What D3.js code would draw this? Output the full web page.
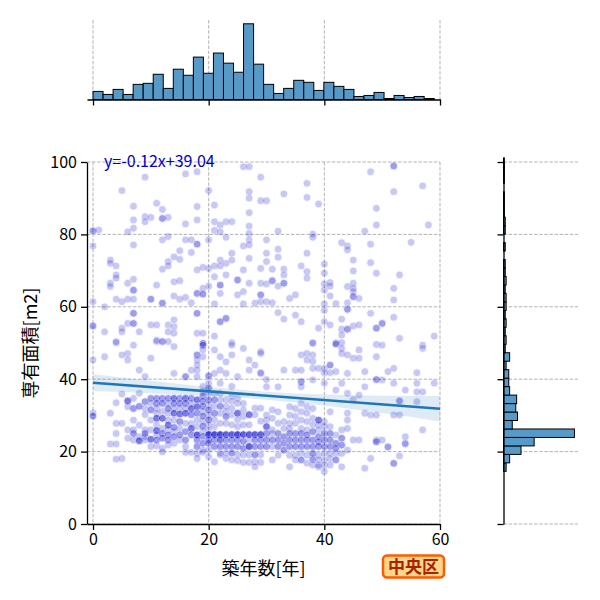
<!DOCTYPE html>
<html>
<head>
<meta charset="utf-8">
<script src="https://cdn.jsdelivr.net/npm/d3@7"></script>
<style>
  body { margin: 0; background: #fff; }
  svg { display: block; }
</style>
</head>
<body>
<svg id="chart" width="600" height="600"></svg>
<script>
// ---- data ----
var xTicks = [0, 20, 40, 60]
var yTicks = [0, 20, 40, 60, 80, 100]

// top histogram (築年数): 34 bins from 0 to 59
var ageBinStart = 0
var ageBinWidth = 59 / 34
var ageCounts = [8, 5, 10, 5, 15, 16, 25, 11, 30, 24, 42, 26, 46, 36, 27, 75, 35,
                 15, 6, 11, 19, 17, 9, 17, 13, 10, 3, 4, 7, 1, 4, 2, 3, 1]

// right histogram (専有面積): 37 bins, bottom to top
var areaBinStart = 14.55
var areaBinWidth = 2.34
var areaCounts = [3, 7, 20, 35, 81, 10, 16, 14, 15, 7, 6, 6, 3, 7, 2, 3, 2, 3, 2,
                  3, 3, 2, 3, 2, 2, 0, 2, 0, 2, 2, 1, 1, 1, 0, 1, 1, 1]

// regression
var fitSlope = -0.12
var fitIntercept = 39.04
var fitLabel = "y=-0.12x+39.04"
var ciX = [0, 10, 20, 30, 40, 50, 60]
var ciHalf = [2.3, 1.7, 1.2, 1.1, 1.5, 2.4, 3.5]

// scatter: [築年数, [専有面積...]]
var scatterCols = [
  [0, [81.0, 81.0, 76.8, 61.4, 54.7, 54.7, 45.3, 30.7, 29.8, 29.8]],
  [1, [81.2]],
  [2, [60.0, 53.1, 46.2]],
  [3, [72.9, 72.0, 66.5, 65.6, 30.6, 22.1]],
  [4, [71.3, 68.8, 67.9, 62.1, 50.4, 50.1, 33.5, 27.8, 25.0, 22.1, 17.9]],
  [5, [92.1, 61.4, 54.1, 53.1, 46.7, 35.9, 27.8, 18.1]],
  [6, [80.7, 66.5, 62.1, 55.4, 47.1, 45.3, 34.0, 34.0, 32.4, 26.0, 23.7]],
  [7, [87.8, 84.0, 81.7, 77.1, 67.6, 64.6, 64.6, 62.1, 58.2, 58.2, 55.4, 55.4, 49.4, 34.7, 31.9, 28.7, 26.0, 25.0, 23.2]],
  [8, [53.1, 42.5, 36.1, 32.5, 27.3, 24.1, 23.0, 23.0]],
  [9, [95.8, 84.9, 83.5, 40.7, 33.8, 31.9, 30.2, 26.0, 25.0, 24.1, 23.2]],
  [10, [84.7, 62.1, 62.1, 55.0, 45.8, 34.7, 33.3, 31.5, 28.7, 26.0, 23.4, 23.4, 21.4]],
  [11, [88.6, 66.0, 55.0, 50.8, 50.4, 34.7, 33.3, 31.9, 30.6, 29.2, 29.2, 27.3, 25.8, 25.8, 24.6, 23.2, 21.6]],
  [12, [86.9, 84.4, 84.4, 78.5, 70.4, 61.0, 61.0, 50.4, 50.4, 34.7, 33.3, 31.1, 29.2, 29.2, 26.4, 25.0, 23.7, 20.9, 19.9]],
  [13, [84.7, 79.4, 72.5, 71.3, 55.0, 53.1, 50.4, 34.7, 33.3, 31.9, 30.6, 28.7, 27.3, 27.3, 26.0, 24.6, 23.2, 21.8]],
  [14, [73.8, 66.9, 63.0, 56.4, 54.5, 52.7, 49.0, 41.6, 34.7, 34.7, 33.3, 31.9, 30.6, 30.6, 28.7, 26.7, 25.5, 24.1, 22.3]],
  [15, [75.5, 73.1, 67.2, 62.1, 34.7, 33.3, 31.9, 30.4, 30.4, 28.3, 26.4, 24.6, 23.2]],
  [16, [96.7, 82.9, 78.5, 62.6, 40.7, 40.7, 34.7, 34.7, 33.3, 31.9, 30.6, 30.6, 27.8, 25.5, 23.2, 21.4, 19.8]],
  [17, [78.5, 75.0, 61.1, 42.5, 34.7, 33.3, 31.9, 31.9, 30.2, 27.8, 26.4, 26.4, 24.6, 19.8]],
  [18, [97.3, 87.7, 84.0, 77.3, 77.3, 70.2, 63.7, 63.7, 58.2, 58.2, 52.7, 46.7, 46.7, 45.3, 43.9, 42.5, 40.7, 34.3, 34.3, 32.4, 32.4, 30.6, 28.7, 26.9, 24.6, 24.6, 23.2, 21.4, 19.5, 18.1]],
  [19, [70.9, 65.1, 63.5, 63.5, 52.7, 49.9, 49.9, 49.4, 49.4, 48.1, 46.2, 38.0, 36.6, 35.3, 33.9, 32.5, 31.1, 29.8, 28.4, 27.0, 25.6, 24.2, 22.3, 20.4, 19.8]],
  [20, [92.1, 78.5, 70.6, 65.7, 40.9, 40.9, 38.9, 37.5, 36.1, 34.3, 32.9, 31.5, 30.1, 28.8, 27.4, 26.0, 24.7, 24.7, 24.7, 23.2, 22.3, 20.5, 18.6]],
  [21, [88.1, 83.5, 81.1, 71.3, 68.3, 60.8, 51.9, 48.1, 41.6, 36.1, 34.3, 32.5, 30.6, 28.8, 26.9, 24.7, 24.7, 24.7, 23.2, 21.4, 17.2]],
  [22, [82.6, 80.7, 72.9, 71.3, 66.0, 66.0, 63.7, 55.9, 55.9, 46.2, 42.5, 38.9, 36.1, 34.3, 32.5, 30.6, 27.8, 24.7, 24.7, 24.7, 23.2, 23.2, 21.4, 19.6, 19.1]],
  [23, [83.5, 79.2, 72.0, 68.8, 56.8, 56.8, 44.8, 41.6, 34.3, 32.5, 31.1, 29.7, 27.8, 24.7, 24.7, 23.2, 21.4, 19.6, 18.1]],
  [24, [83.5, 74.8, 72.9, 50.1, 49.4, 46.7, 38.0, 35.3, 33.9, 32.0, 30.2, 27.4, 24.7, 24.7, 23.2, 21.4, 19.6, 17.7]],
  [25, [67.4, 67.4, 63.3, 40.7, 34.7, 33.3, 30.6, 30.6, 28.8, 26.9, 24.7, 24.7, 24.7, 23.2, 21.4, 19.1, 17.5]],
  [26, [98.7, 76.8, 70.2, 64.2, 60.8, 48.5, 33.3, 31.5, 29.7, 27.4, 24.7, 24.7, 22.8, 20.9, 19.1, 17.0]],
  [27, [98.7, 91.8, 90.0, 86.0, 82.3, 80.3, 78.5, 77.1, 73.4, 66.5, 45.3, 42.5, 30.2, 30.2, 27.4, 24.7, 24.7, 23.2, 21.4, 21.4, 19.1, 17.0]],
  [28, [61.0, 43.9, 32.0, 30.2, 24.7, 24.7, 23.2, 21.4, 19.1, 17.2, 15.8]],
  [29, [95.8, 89.3, 70.6, 66.5, 63.3, 63.3, 61.4, 47.6, 47.1, 41.8, 41.6, 32.0, 28.4, 24.7, 24.7, 23.2, 21.4, 19.1, 17.0]],
  [30, [89.3, 78.5, 74.8, 72.5, 66.3, 61.4, 39.9, 37.9, 30.1, 28.7, 26.9, 26.9, 25.0, 23.2, 21.4]],
  [31, [70.4, 67.2, 67.2, 61.1, 31.5, 29.2, 26.0, 23.2, 17.7]],
  [32, [80.9, 75.9, 73.7, 65.7, 58.4, 37.9, 31.0, 27.8, 25.0, 23.2, 21.4, 19.0]],
  [33, [91.2, 70.4, 68.8, 66.5, 66.5, 56.6, 42.5, 28.3, 26.4, 24.1, 22.3, 20.4]],
  [34, [62.3, 32.4, 30.1, 27.8, 26.4, 25.0, 23.2, 21.4, 19.0, 15.8]],
  [35, [63.3, 57.7, 42.5, 31.9, 29.7, 27.8, 25.0, 23.2, 21.4, 19.0, 17.7]],
  [36, [71.3, 55.9, 46.7, 42.5, 39.3, 39.3, 37.9, 33.3, 31.0, 28.7, 26.4, 25.0, 23.2, 21.4, 19.5, 17.7, 17.7]],
  [37, [94.1, 90.2, 74.8, 69.7, 67.9, 47.1, 45.3, 32.4, 30.6, 28.3, 26.0, 24.6, 23.2, 21.4, 19.0, 16.8]],
  [38, [80.1, 79.2, 50.1, 49.9, 46.7, 44.9, 43.0, 39.8, 31.9, 29.2, 27.4, 25.5, 23.2, 21.4, 19.5, 18.1, 16.3, 17.7]],
  [39, [88.4, 54.1, 43.0, 28.7, 28.7, 27.4, 26.0, 24.1, 22.7, 21.4, 19.0, 17.7, 16.3, 15.8]],
  [40, [71.8, 69.3, 66.3, 64.6, 60.8, 59.0, 55.9, 43.0, 41.8, 38.9, 28.3, 26.9, 25.0, 23.2, 21.4, 19.5, 17.7, 16.3, 14.5]],
  [41, [66.7, 65.7, 63.0, 55.0, 43.9, 43.9, 41.8, 31.0, 26.9, 25.0, 23.2, 21.4, 19.5, 18.1, 16.3]],
  [42, [60.9, 50.1, 49.7, 49.7, 42.1, 37.0, 24.6, 22.3, 20.9, 19.5, 17.7, 17.7]],
  [43, [77.7, 56.6, 53.8, 52.2, 50.1, 48.5, 47.1, 38.9, 26.0, 23.7, 21.8, 19.5, 15.8]],
  [44, [76.8, 75.7, 65.6, 61.1, 59.3, 59.3, 53.8, 53.8, 46.7, 41.6, 36.1, 30.6, 28.7, 26.4, 20.4]],
  [45, [72.9, 69.9, 66.5, 65.1, 64.2, 62.8, 62.8, 54.7, 45.8, 34.4, 23.2]],
  [46, [62.3, 55.0, 48.1, 45.8, 35.6, 23.2]],
  [47, [80.9, 42.1, 37.9, 30.6, 15.4]],
  [48, [97.3, 77.3, 72.2, 58.2, 30.1, 18.1]],
  [49, [87.2, 82.6, 69.3, 54.1, 54.1, 49.6, 46.2, 39.9, 39.9, 30.1, 23.2, 22.7, 22.7]],
  [50, [55.4, 55.4, 49.4, 39.8, 23.2]],
  [51, [42.1, 21.4, 21.2]],
  [52, [98.9, 98.9, 91.8, 65.1, 61.9, 57.1, 43.0, 38.9, 30.1, 16.7, 16.8]],
  [53, [68.8, 51.3, 34.0, 34.0, 30.1, 18.8]],
  [54, [37.0, 24.1, 22.3, 22.1]],
  [55, [77.8]],
  [56, [41.8, 38.9, 36.5, 33.8]],
  [57, [93.4, 49.4, 48.5, 36.5, 26.0]],
  [58, [82.6]],
  [59, [51.9, 38.9]]
]

// repeated units (same age and area) that make the darker spots in the cluster
var scatterRepeats = [
  [6, [34.0]],
  [7, [31.9, 25.0]],
  [8, [23.0, 32.5]],
  [9, [33.8, 25.0]],
  [10, [34.7, 31.5, 23.4]],
  [11, [34.7, 33.3, 29.2, 25.8, 23.2]],
  [12, [34.7, 33.3, 29.2, 25.0, 23.7]],
  [13, [34.7, 31.9, 27.3, 24.6, 23.2]],
  [14, [34.7, 33.3, 30.6, 26.7, 24.1]],
  [15, [34.7, 33.3, 30.4, 28.3, 24.6]],
  [16, [34.7, 33.3, 30.6, 25.5, 23.2]],
  [17, [34.7, 31.9, 30.2, 26.4, 24.6]],
  [18, [34.3, 32.4, 30.6, 24.6, 24.6, 23.2, 21.4]],
  [19, [35.3, 33.9, 32.5, 29.8, 27.0, 24.2, 22.3]],
  [20, [37.5, 34.3, 31.5, 28.8, 24.7, 24.7, 23.2, 22.3]],
  [21, [34.3, 30.6, 24.7, 24.7, 23.2, 21.4]],
  [22, [32.5, 24.7, 24.7, 23.2, 21.4]],
  [23, [29.7, 24.7, 24.7, 23.2, 21.4]],
  [24, [24.7, 24.7, 23.2, 21.4, 19.6]],
  [25, [30.6, 24.7, 24.7, 23.2, 21.4]],
  [26, [24.7, 24.7, 22.8, 20.9]],
  [27, [30.2, 24.7, 24.7, 21.4, 21.4]],
  [28, [24.7, 24.7, 23.2, 21.4, 19.1]],
  [29, [24.7, 24.7, 23.2, 21.4]],
  [30, [26.9, 25.0, 23.2, 21.4]],
  [31, [25.0, 23.2, 21.4]],
  [32, [25.0, 23.2, 21.4]],
  [33, [24.1, 22.3, 20.4]],
  [34, [25.0, 23.2, 21.4]],
  [35, [25.0, 23.2, 21.4]],
  [36, [25.0, 23.2, 21.4]],
  [37, [24.6, 23.2, 21.4]],
  [38, [25.5, 23.2, 21.4, 19.5]],
  [39, [28.7, 24.1, 22.7, 21.4]],
  [40, [25.0, 23.2, 21.4]],
  [41, [25.0, 23.2, 21.4]],
  [42, [22.3, 20.9]],
  [43, [23.7, 21.8]]
]

var wardName = "中央区"
var xLabel = "築年数[年]"
var yLabel = "専有面積[m2]"

// ---- layout ----
var fontFamily = "'Noto Sans CJK JP', 'Noto Sans', sans-serif"
var main = { left: 87, right: 440, top: 162, bottom: 524 }
var topHist = { top: 20, bottom: 99.5 }
var rightHist = { left: 503.5, right: 578 }
var gridColor = "#aaaaaa"
var histFill = "#5799c7"
var dotColor = "mediumblue"
var fitColor = "#1f77b4"

var svg = d3.select("#chart")

var points = []
scatterCols.concat(scatterRepeats).forEach(function(col) {
    col[1].forEach(function(v) { points.push({ age: col[0], area: v }) })
})

var xScale = d3.scaleLinear().domain([-1.04, 60]).range([main.left, main.right])
var yScale = d3.scaleLinear().domain([0, 100]).range([main.bottom, main.top])
var topY = d3.scaleLinear()
    .domain([0, d3.max(ageCounts) * 1.05])
    .range([topHist.bottom, topHist.top])
var rightX = d3.scaleLinear()
    .domain([0, d3.max(areaCounts) * 1.05])
    .range([rightHist.left, rightHist.right])

function dashed(sel) {
    return sel.attr("stroke", gridColor)
        .attr("stroke-width", 0.9)
        .attr("stroke-dasharray", "3.5,1.6")
}

// ---- grids ----
var grid = svg.append("g")
grid.selectAll(".gx").data(xTicks).enter().append("line")
    .attr("x1", d => xScale(d)).attr("x2", d => xScale(d))
    .attr("y1", main.top).attr("y2", main.bottom)
    .call(dashed)
grid.selectAll(".gy").data(yTicks).enter().append("line")
    .attr("x1", main.left).attr("x2", main.right)
    .attr("y1", d => yScale(d)).attr("y2", d => yScale(d))
    .call(dashed)
grid.selectAll(".gtx").data(xTicks).enter().append("line")
    .attr("x1", d => xScale(d)).attr("x2", d => xScale(d))
    .attr("y1", topHist.top).attr("y2", topHist.bottom)
    .call(dashed)
grid.selectAll(".gry").data(yTicks).enter().append("line")
    .attr("x1", rightHist.left).attr("x2", rightHist.right)
    .attr("y1", d => yScale(d)).attr("y2", d => yScale(d))
    .call(dashed)

// ---- scatter ----
svg.append("g")
    .selectAll("circle")
    .data(points)
    .enter()
    .append("circle")
    .attr("cx", d => xScale(d.age))
    .attr("cy", d => yScale(d.area))
    .attr("r", 3.9)
    .attr("fill", dotColor)
    .attr("stroke", "white")
    .attr("stroke-width", 0.8)
    .attr("opacity", 0.21)

// ---- regression + CI ----
var band = ciX.map((x, i) => ({ x: x, lo: fitIntercept + fitSlope * x - ciHalf[i], hi: fitIntercept + fitSlope * x + ciHalf[i] }))
svg.append("path")
    .datum(band)
    .attr("d", d3.area().curve(d3.curveMonotoneX)
        .x(d => xScale(d.x)).y0(d => yScale(d.lo)).y1(d => yScale(d.hi)))
    .attr("fill", fitColor)
    .attr("fill-opacity", 0.15)
svg.append("line")
    .attr("x1", xScale(0)).attr("y1", yScale(fitIntercept))
    .attr("x2", xScale(60)).attr("y2", yScale(fitIntercept + fitSlope * 60))
    .attr("stroke", fitColor)
    .attr("stroke-width", 2.6)

svg.append("text")
    .attr("x", 104)
    .attr("y", 167)
    .attr("font-family", fontFamily)
    .attr("font-size", 16)
    .attr("fill", "mediumblue")
    .text(fitLabel)

// ---- top histogram ----
svg.append("g")
    .selectAll("rect")
    .data(ageCounts)
    .enter()
    .append("rect")
    .attr("x", (d, i) => xScale(ageBinStart + i * ageBinWidth))
    .attr("width", xScale(ageBinWidth) - xScale(0))
    .attr("y", d => topY(d))
    .attr("height", d => topY(0) - topY(d))
    .attr("fill", histFill)
    .attr("stroke", "black")
    .attr("stroke-width", 1)

// ---- right histogram ----
svg.append("g")
    .selectAll("rect")
    .data(areaCounts)
    .enter()
    .append("rect")
    .attr("x", rightX(0))
    .attr("y", (d, i) => yScale(areaBinStart + (i + 1) * areaBinWidth))
    .attr("height", yScale(0) - yScale(areaBinWidth))
    .attr("width", d => rightX(d) - rightX(0))
    .attr("fill", histFill)
    .attr("stroke", "black")
    .attr("stroke-width", d => d > 0 ? 1 : 0)

// ---- axes ----
function styleAxis(g) {
    g.select(".domain").attr("stroke-width", 1.3)
    g.selectAll(".tick line").attr("stroke-width", 1.3)
    g.selectAll(".tick text")
        .attr("font-family", fontFamily)
        .attr("font-size", 16)
        .attr("fill", "black")
}

svg.append("g")
    .attr("transform", `translate(0,${main.bottom})`)
    .call(d3.axisBottom(xScale).tickValues(xTicks).tickSize(6).tickPadding(4).tickSizeOuter(0))
    .call(styleAxis)
svg.append("g")
    .attr("transform", `translate(${main.left},0)`)
    .call(d3.axisLeft(yScale).tickValues(yTicks).tickSize(6).tickPadding(4).tickSizeOuter(0))
    .call(styleAxis)

svg.append("g")
    .attr("transform", `translate(0,${topHist.bottom})`)
    .call(d3.axisBottom(xScale).tickValues(xTicks).tickSize(6).tickFormat("").tickSizeOuter(0))
    .call(styleAxis)
svg.append("g")
    .attr("transform", `translate(${rightHist.left},0)`)
    .call(d3.axisLeft(yScale).tickValues(yTicks).tickSize(6).tickFormat("").tickSizeOuter(0))
    .call(styleAxis)

// axis labels
svg.append("text")
    .attr("x", (main.left + main.right) / 2)
    .attr("y", 575)
    .attr("text-anchor", "middle")
    .attr("font-family", fontFamily)
    .attr("font-size", 18)
    .text(xLabel)
svg.append("text")
    .attr("transform", `translate(37,${(main.top + main.bottom) / 2}) rotate(-90)`)
    .attr("text-anchor", "middle")
    .attr("font-family", fontFamily)
    .attr("font-size", 18)
    .text(yLabel)

// ward badge
var badge = svg.append("g")
badge.append("rect")
    .attr("x", 383).attr("y", 555.5)
    .attr("width", 61).attr("height", 22)
    .attr("rx", 4)
    .attr("fill", "#ffd68a")
    .attr("stroke", "#ff5a00")
    .attr("stroke-width", 2.5)
badge.append("text")
    .attr("x", 413.5).attr("y", 573)
    .attr("text-anchor", "middle")
    .attr("font-family", fontFamily)
    .attr("font-weight", "bold")
    .attr("font-size", 17)
    .attr("fill", "#a82400")
    .text(wardName)
</script>
</body>
</html>
